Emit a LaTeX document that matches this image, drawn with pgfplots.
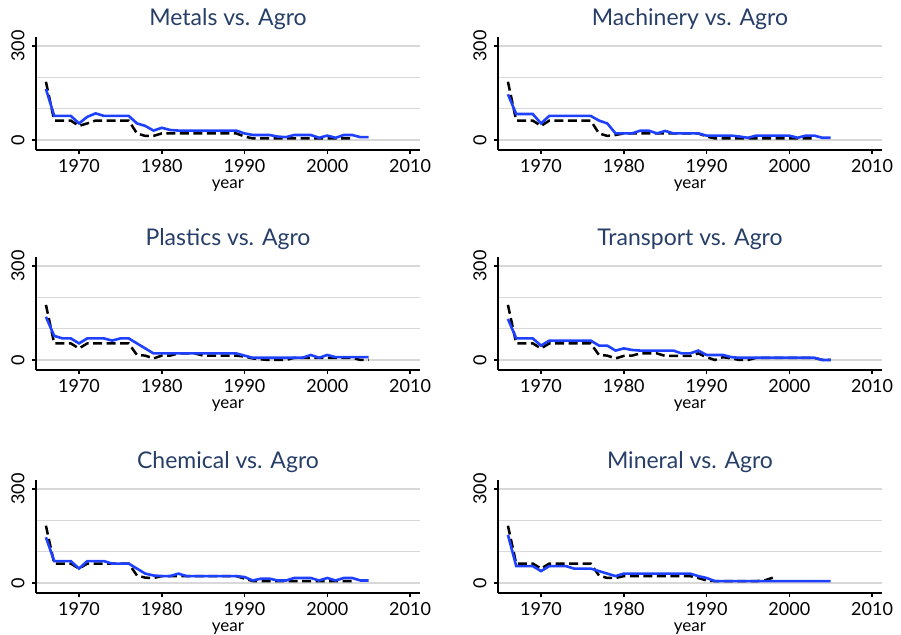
\documentclass[border=0pt]{standalone}
\usepackage{fontspec}
\setmainfont{Lato}
\usepackage{pgfplots}
\pgfplotsset{compat=1.18}

\definecolor{titlecol}{RGB}{38,62,104}
\definecolor{ser}{RGB}{30,64,255}
\definecolor{gridcol}{RGB}{216,216,216}

\pgfplotsset{
  panel/.style={
    scale only axis, width=384pt, height=113pt, anchor=south west,
    xmin=1964.8, xmax=2011.2, ymin=-32, ymax=329,
    axis x line*=bottom, axis y line*=left,
    axis line style={-, line width=2pt},
    xtick={1970,1980,...,2010}, ytick={0,300},
    minor ytick={100,200},
    ymajorgrids, yminorgrids,
    major grid style={gridcol, line width=1.5pt},
    minor grid style={gridcol, line width=1.5pt},
    tick align=outside, major tick length=4pt, minor tick length=0pt,
    tick style={black, line width=1.5pt},
    /pgf/number format/assume math mode=true,
    /pgf/number format/1000 sep={},
    ticklabel style={font=\fontsize{18}{21}\selectfont},
    xticklabel style={yshift=-2pt},
    yticklabel style={xshift=-4pt, rotate=90, anchor=south},
    xlabel={year},
    xlabel style={font=\fontsize{17}{20}\selectfont, at={(0.5,0)}, anchor=base, yshift=-38pt},
    title style={font=\fontsize{23}{27}\selectfont, text=titlecol, at={(0.5,1)}, anchor=base, yshift=6pt},
    clip=false,
  },
  agro/.style={black, line width=2.5pt, dash pattern=on 9pt off 4.5pt},
  sect/.style={ser, line width=2.6pt},
}

\begin{document}
\begin{tikzpicture}
\path[use as bounding box] (0,0) rectangle (901pt,-634pt);

% Metals
\begin{axis}[panel, at={(36pt,-150pt)}, title={Metals vs. Agro}]
\addplot[agro] coordinates {(1966,186) (1967,62) (1968,62) (1969,62) (1970,45) (1971,53) (1972,62) (1973,62) (1974,62) (1975,62) (1976,62) (1977,21) (1978,13) (1979,13) (1980,21) (1981,21) (1982,21) (1983,21) (1984,21) (1985,21) (1986,21) (1987,21) (1988,21) (1989,21) (1990,11) (1991,5) (1992,5) (1993,5) (1994,5) (1995,5) (1996,5) (1997,5) (1998,5) (1999,5) (2000,5) (2001,5) (2002,5) (2003,5)};
\addplot[sect] coordinates {(1966,163) (1967,77) (1968,77) (1969,77) (1970,53) (1971,74) (1972,85) (1973,77) (1974,77) (1975,77) (1976,77) (1977,53) (1978,45) (1979,30) (1980,39) (1981,32) (1982,30) (1983,30) (1984,30) (1985,30) (1986,30) (1987,30) (1988,30) (1989,30) (1990,21) (1991,16) (1992,16) (1993,16) (1994,11) (1995,9) (1996,16) (1997,16) (1998,16) (1999,7) (2000,14) (2001,7) (2002,16) (2003,16) (2004,9) (2005,9)};
\end{axis}

% Machinery
\begin{axis}[panel, at={(498pt,-150pt)}, title={Machinery vs. Agro}]
\addplot[agro] coordinates {(1966,186) (1967,62) (1968,62) (1969,62) (1970,45) (1971,62) (1972,62) (1973,62) (1974,62) (1975,62) (1976,62) (1977,21) (1978,13) (1979,16) (1980,21) (1981,21) (1982,21) (1983,21) (1984,21) (1985,21) (1986,21) (1987,21) (1988,21) (1989,21) (1990,11) (1991,5) (1992,5) (1993,5) (1994,5) (1995,5) (1996,5) (1997,5) (1998,5) (1999,5) (2000,5) (2001,5) (2002,5) (2003,5)};
\addplot[sect] coordinates {(1966,146) (1967,83) (1968,83) (1969,83) (1970,53) (1971,77) (1972,77) (1973,77) (1974,77) (1975,77) (1976,77) (1977,62) (1978,53) (1979,21) (1980,21) (1981,21) (1982,30) (1983,30) (1984,21) (1985,29) (1986,21) (1987,21) (1988,21) (1989,21) (1990,14) (1991,14) (1992,14) (1993,14) (1994,11) (1995,7) (1996,14) (1997,14) (1998,14) (1999,14) (2000,14) (2001,7) (2002,14) (2003,14) (2004,7) (2005,7)};
\end{axis}

% Plastics
\begin{axis}[panel, at={(36pt,-370pt)}, title={Plastics vs. Agro}]
\addplot[agro] coordinates {(1966,176) (1967,53) (1968,53) (1969,53) (1970,37) (1971,53) (1972,53) (1973,53) (1974,53) (1975,53) (1976,53) (1977,16) (1978,14) (1979,5) (1980,14) (1981,14) (1982,21) (1983,21) (1984,21) (1985,14) (1986,14) (1987,14) (1988,14) (1989,14) (1990,11) (1991,5) (1992,2) (1993,0) (1994,0) (1995,0) (1996,7) (1997,7) (1998,7) (1999,7) (2000,7) (2001,7) (2002,7) (2003,7) (2004,0) (2005,0)};
\addplot[sect] coordinates {(1966,138) (1967,77) (1968,69) (1969,69) (1970,53) (1971,69) (1972,69) (1973,69) (1974,62) (1975,69) (1976,69) (1977,53) (1978,37) (1979,21) (1980,21) (1981,21) (1982,21) (1983,21) (1984,21) (1985,21) (1986,21) (1987,21) (1988,21) (1989,21) (1990,14) (1991,7) (1992,7) (1993,7) (1994,7) (1995,7) (1996,7) (1997,7) (1998,16) (1999,7) (2000,16) (2001,9) (2002,9) (2003,9) (2004,9) (2005,9)};
\end{axis}

% Transport
\begin{axis}[panel, at={(498pt,-370pt)}, title={Transport vs. Agro}]
\addplot[agro] coordinates {(1966,176) (1967,53) (1968,53) (1969,53) (1970,37) (1971,53) (1972,53) (1973,53) (1974,53) (1975,53) (1976,53) (1977,16) (1978,14) (1979,5) (1980,13) (1981,14) (1982,21) (1983,21) (1984,21) (1985,13) (1986,13) (1987,13) (1988,13) (1989,21) (1990,9) (1991,0) (1992,9) (1993,5) (1994,0) (1995,0) (1996,7) (1997,7) (1998,7) (1999,7) (2000,7) (2001,7) (2002,7) (2003,7) (2004,0) (2005,0)};
\addplot[sect] coordinates {(1966,131) (1967,69) (1968,69) (1969,69) (1970,46) (1971,62) (1972,62) (1973,62) (1974,62) (1975,62) (1976,62) (1977,46) (1978,46) (1979,30) (1980,37) (1981,32) (1982,30) (1983,30) (1984,30) (1985,30) (1986,30) (1987,21) (1988,21) (1989,30) (1990,16) (1991,16) (1992,16) (1993,9) (1994,7) (1995,7) (1996,7) (1997,7) (1998,7) (1999,7) (2000,7) (2001,7) (2002,7) (2003,7) (2004,0) (2005,0)};
\end{axis}

% Chemical
\begin{axis}[panel, at={(36pt,-593pt)}, title={Chemical vs. Agro}]
\addplot[agro] coordinates {(1966,183) (1967,62) (1968,62) (1969,62) (1970,46) (1971,62) (1972,62) (1973,62) (1974,62) (1975,62) (1976,62) (1977,24) (1978,17) (1979,16) (1980,22) (1981,22) (1982,22) (1983,22) (1984,22) (1985,22) (1986,22) (1987,22) (1988,22) (1989,22) (1990,14) (1991,6) (1992,6) (1993,6) (1994,6) (1995,6) (1996,6) (1997,6) (1998,6) (1999,6) (2000,6) (2001,6) (2002,6) (2003,6)};
\addplot[sect] coordinates {(1966,146) (1967,70) (1968,70) (1969,70) (1970,46) (1971,70) (1972,70) (1973,70) (1974,62) (1975,62) (1976,62) (1977,46) (1978,30) (1979,24) (1980,22) (1981,22) (1982,30) (1983,22) (1984,22) (1985,22) (1986,22) (1987,22) (1988,22) (1989,22) (1990,19) (1991,8) (1992,14) (1993,14) (1994,8) (1995,8) (1996,16) (1997,16) (1998,16) (1999,8) (2000,16) (2001,8) (2002,16) (2003,16) (2004,8) (2005,8)};
\end{axis}

% Mineral
\begin{axis}[panel, at={(498pt,-593pt)}, title={Mineral vs. Agro}]
\addplot[agro] coordinates {(1966,183) (1967,62) (1968,62) (1969,62) (1970,46) (1971,62) (1972,62) (1973,62) (1974,62) (1975,62) (1976,62) (1977,24) (1978,16) (1979,16) (1980,22) (1981,22) (1982,22) (1983,22) (1984,22) (1985,22) (1986,22) (1987,22) (1988,22) (1989,16) (1990,8) (1991,6) (1992,6) (1993,6) (1994,6) (1995,6) (1996,6) (1997,8) (1998,17)};
\addplot[sect] coordinates {(1966,154) (1967,54) (1968,54) (1969,54) (1970,38) (1971,54) (1972,54) (1973,54) (1974,46) (1975,46) (1976,46) (1977,38) (1978,30) (1979,22) (1980,30) (1981,30) (1982,30) (1983,30) (1984,30) (1985,30) (1986,30) (1987,30) (1988,30) (1989,22) (1990,16) (1991,6) (1992,6) (1993,6) (1994,6) (1995,6) (1996,6) (1997,6) (1998,6) (1999,6) (2000,6) (2001,6) (2002,6) (2003,6) (2004,6) (2005,6)};
\end{axis}
\end{tikzpicture}
\end{document}
